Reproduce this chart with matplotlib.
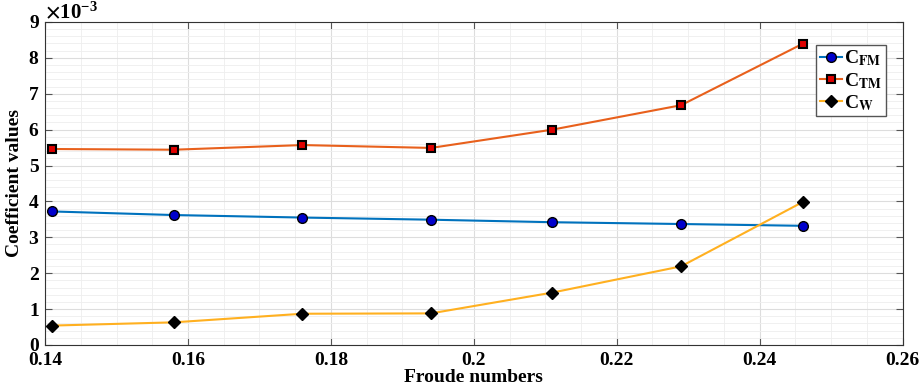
import matplotlib
matplotlib.use('Agg')
import matplotlib.pyplot as plt
from matplotlib.ticker import MultipleLocator, ScalarFormatter

froude = [0.141, 0.158, 0.176, 0.194, 0.211, 0.229, 0.246]
c_fm = [3.72e-3, 3.62e-3, 3.55e-3, 3.49e-3, 3.42e-3, 3.37e-3, 3.32e-3]
c_tm = [5.46e-3, 5.44e-3, 5.57e-3, 5.49e-3, 6.00e-3, 6.68e-3, 8.39e-3]
c_w = [0.54e-3, 0.63e-3, 0.87e-3, 0.88e-3, 1.46e-3, 2.19e-3, 3.98e-3]

plt.rcParams['font.family'] = ['Liberation Serif', 'DejaVu Serif']
plt.rcParams['font.weight'] = 'bold'
plt.rcParams['mathtext.fontset'] = 'stix'
plt.rcParams['font.size'] = 14

fig = plt.figure(figsize=(9.21, 3.92), dpi=100)
ax = fig.add_axes([0.049, 0.12, 0.931, 0.824])

ax.plot(froude, c_fm, color='#0072BD', lw=1.5, marker='o', ms=7,
        mfc='#0000CC', mec='black', label=r'C$_{\mathbf{FM}}$')
ax.plot(froude, c_tm, color='#E8601C', lw=1.5, marker='s', ms=6,
        mfc='#E00000', mec='black', mew=1.5, label=r'C$_{\mathbf{TM}}$')
ax.plot(froude, c_w, color='#FFB020', lw=1.5, marker='D', ms=6,
        mfc='black', mec='black', label=r'C$_{\mathbf{W}}$')

ax.set_xlim(0.14, 0.26)
ax.set_ylim(0, 9e-3)
ax.xaxis.set_minor_locator(MultipleLocator(0.005))
ax.yaxis.set_major_locator(MultipleLocator(1e-3))
ax.yaxis.set_minor_locator(MultipleLocator(0.2e-3))

fmt = ScalarFormatter(useMathText=True)
fmt.set_powerlimits((-2, 2))
ax.yaxis.set_major_formatter(fmt)
ax.yaxis.get_offset_text().set_fontsize(15)
xt = [0.14, 0.16, 0.18, 0.2, 0.22, 0.24, 0.26]
ax.set_xticks(xt)
ax.set_xticklabels(['0.14', '0.16', '0.18', '0.2', '0.22', '0.24', '0.26'])

ax.grid(which='major', color='#dddddd', lw=0.8)
ax.grid(which='minor', color='#eeeeee', lw=0.6)
ax.set_axisbelow(True)
ax.tick_params(which='both', direction='in', top=True, right=True)
ax.tick_params(which='minor', length=0)
ax.tick_params(which='major', length=5, color='#555555')
ax.tick_params(axis='x', pad=5)
ax.tick_params(axis='y', pad=4)
for s in ax.spines.values():
    s.set_color('#333333')
    s.set_linewidth(0.8)

ax.set_xlabel('Froude numbers', fontweight='bold', fontsize=14, labelpad=0)
ax.set_ylabel('Coefficient values', fontweight='bold', fontsize=14, labelpad=4)

leg = ax.legend(loc='upper right', bbox_to_anchor=(0.981, 0.929), fontsize=14,
                fancybox=False, edgecolor='#555555', framealpha=1,
                handlelength=1.1, handletextpad=0.15, borderpad=0.2,
                labelspacing=0.12, borderaxespad=0)

fig.savefig('out.png', dpi=100)
